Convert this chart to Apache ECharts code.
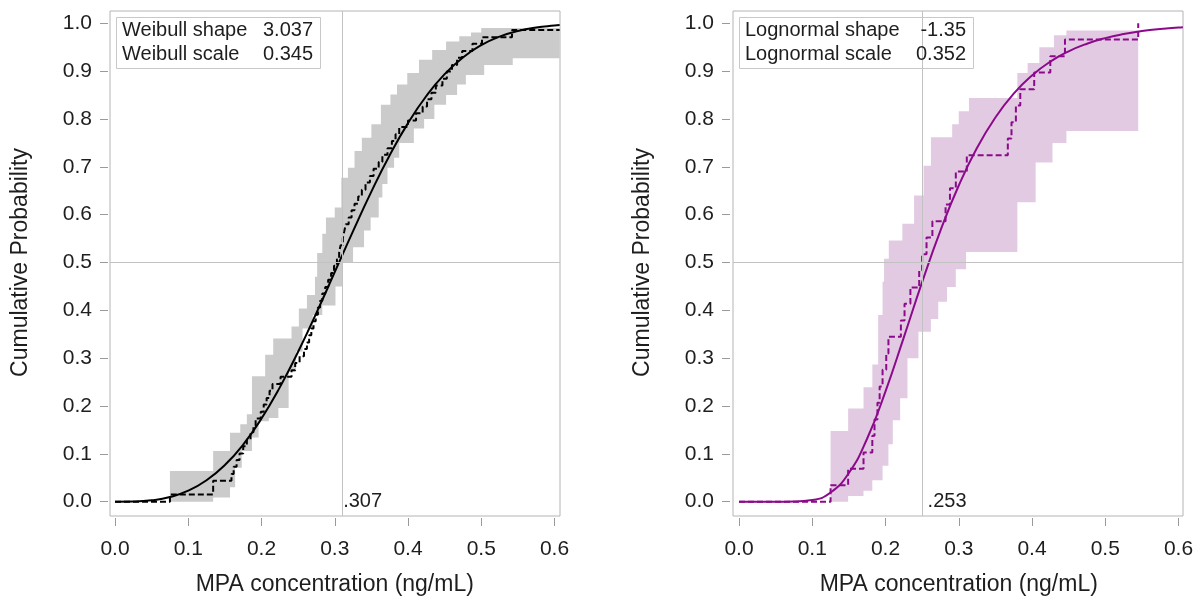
<!DOCTYPE html>
<html lang="en">
<head>
    <meta charset="utf-8"/>
    <title>MPA cumulative probability</title>
    <script src="https://cdn.jsdelivr.net/npm/echarts/dist/echarts.min.js"></script>
</head>
<style>
    html, body { margin: 0; padding: 0; background: #fff; }
    #chart { width: 1200px; height: 598px; }
</style>
<body>
<div id="chart"></div>
<script type="text/javascript">
    // tick labels
    var xTicks = [0, 0.1, 0.2, 0.3, 0.4, 0.5, 0.6];
    var yTicks = [0, 0.1, 0.2, 0.3, 0.4, 0.5, 0.6, 0.7, 0.8, 0.9, 1.0];

    // ---- left panel: Weibull ----
    var leftParams = [['Weibull shape', '3.037'], ['Weibull scale', '0.345']];
    var leftMedian = 0.307;
    var leftCurveX = [0, 0.025, 0.05, 0.075, 0.1, 0.125, 0.15, 0.175, 0.2, 0.225, 0.25, 0.275, 0.3,
        0.325, 0.35, 0.375, 0.4, 0.425, 0.45, 0.475, 0.5, 0.525, 0.55, 0.575, 0.6, 0.607];
    var leftCurveY = [0, 0.0003, 0.0028, 0.0097, 0.023, 0.0448, 0.0766, 0.1195, 0.1739, 0.239, 0.3134, 0.3948, 0.4801,
        0.5657, 0.6482, 0.7242, 0.7913, 0.848, 0.8937, 0.9287, 0.9543, 0.9721, 0.9838, 0.9911, 0.9953, 0.9962];
    var leftEcdfX = [0, 0.075, 0.134, 0.159, 0.162, 0.166, 0.170, 0.175, 0.180, 0.185, 0.189, 0.192, 0.199, 0.203,
        0.207, 0.211, 0.215, 0.226, 0.241, 0.246, 0.252, 0.258, 0.262, 0.265, 0.268, 0.271, 0.274, 0.277, 0.280,
        0.283, 0.287, 0.291, 0.295, 0.299, 0.303, 0.306, 0.308, 0.311, 0.313, 0.315, 0.319, 0.323, 0.327, 0.332,
        0.337, 0.342, 0.348, 0.353, 0.360, 0.365, 0.372, 0.378, 0.383, 0.388, 0.400, 0.411, 0.420, 0.426, 0.432,
        0.438, 0.447, 0.453, 0.460, 0.467, 0.474, 0.488, 0.501, 0.542, 0.607];
    var leftEcdfY = [0, 0.015, 0.044, 0.058, 0.073, 0.087, 0.101, 0.116, 0.130, 0.145, 0.159, 0.174, 0.188, 0.203,
        0.217, 0.232, 0.246, 0.261, 0.275, 0.290, 0.304, 0.319, 0.333, 0.348, 0.362, 0.377, 0.391, 0.406, 0.420,
        0.435, 0.449, 0.464, 0.478, 0.493, 0.507, 0.522, 0.536, 0.551, 0.565, 0.580, 0.594, 0.609, 0.623, 0.638,
        0.652, 0.667, 0.681, 0.696, 0.710, 0.725, 0.739, 0.754, 0.768, 0.783, 0.797, 0.812, 0.826, 0.841, 0.855,
        0.870, 0.884, 0.899, 0.913, 0.928, 0.942, 0.957, 0.971, 0.986, 0.986];
    // confidence band: upper and lower step edges
    var leftHiX = [0.075, 0.134, 0.157, 0.171, 0.180, 0.187, 0.205, 0.216, 0.241, 0.251, 0.262, 0.273, 0.276, 0.283,
        0.288, 0.300, 0.309, 0.318, 0.327, 0.337, 0.350, 0.363, 0.376, 0.385, 0.399, 0.415, 0.433, 0.452, 0.470,
        0.486, 0.500];
    var leftHiY = [0.064, 0.106, 0.144, 0.162, 0.183, 0.262, 0.307, 0.341, 0.366, 0.404, 0.432, 0.47, 0.52, 0.56,
        0.594, 0.615, 0.677, 0.698, 0.733, 0.761, 0.789, 0.83, 0.851, 0.872, 0.896, 0.924, 0.944, 0.962, 0.973,
        0.981, 0.99];
    var leftLoX = [0.075, 0.134, 0.157, 0.164, 0.173, 0.187, 0.196, 0.210, 0.223, 0.237, 0.247, 0.256, 0.270, 0.283,
        0.301, 0.310, 0.325, 0.340, 0.349, 0.360, 0.365, 0.372, 0.381, 0.388, 0.408, 0.422, 0.436, 0.452, 0.467,
        0.479, 0.504, 0.543];
    var leftLoY = [0, 0.009, 0.030, 0.071, 0.106, 0.134, 0.168, 0.175, 0.196, 0.272, 0.314, 0.362, 0.39, 0.41,
        0.45, 0.50, 0.532, 0.567, 0.594, 0.636, 0.664, 0.698, 0.719, 0.75, 0.78, 0.80, 0.83, 0.85, 0.872,
        0.892, 0.913, 0.927];
    var leftBandEnd = 0.607;

    // ---- right panel: Lognormal ----
    var rightParams = [['Lognormal shape', '-1.35'], ['Lognormal scale', '0.352']];
    var rightMedian = 0.253;
    var rightCurveX = [0, 0.05, 0.075, 0.1, 0.125, 0.15, 0.175, 0.2, 0.225, 0.25, 0.275, 0.3, 0.325, 0.35,
        0.375, 0.4, 0.425, 0.45, 0.475, 0.5, 0.525, 0.55, 0.575, 0.6, 0.606];
    var rightCurveY = [0, 0, 0.0002, 0.0034, 0.0191, 0.0601, 0.1321, 0.2306, 0.3436, 0.4589, 0.5666, 0.6609, 0.7397,
        0.8031, 0.8529, 0.891, 0.9199, 0.9414, 0.9573, 0.969, 0.9775, 0.9837, 0.9882, 0.9914, 0.992];
    var rightEcdfX = [0, 0.125, 0.149, 0.170, 0.182, 0.185, 0.189, 0.192, 0.196, 0.201, 0.204, 0.221, 0.226, 0.234,
        0.246, 0.250, 0.256, 0.264, 0.282, 0.288, 0.296, 0.311, 0.367, 0.372, 0.378, 0.384, 0.403, 0.425, 0.445, 0.545];
    var rightEcdfY = [0, 0.0345, 0.069, 0.103, 0.138, 0.172, 0.207, 0.241, 0.276, 0.310, 0.345, 0.379, 0.414, 0.448,
        0.483, 0.517, 0.552, 0.586, 0.621, 0.655, 0.690, 0.724, 0.759, 0.793, 0.828, 0.862, 0.897, 0.931, 0.966, 1.0];
    var rightHiX = [0.125, 0.149, 0.170, 0.182, 0.190, 0.196, 0.198, 0.2045, 0.223, 0.239, 0.252, 0.262, 0.291,
        0.300, 0.314, 0.380, 0.394, 0.410, 0.430, 0.447];
    var rightHiY = [0.148, 0.195, 0.239, 0.287, 0.39, 0.46, 0.508, 0.546, 0.581, 0.64, 0.702, 0.762, 0.789,
        0.816, 0.844, 0.896, 0.917, 0.95, 0.975, 0.985];
    var rightLoX = [0.125, 0.149, 0.170, 0.182, 0.196, 0.204, 0.210, 0.220, 0.230, 0.245, 0.262, 0.272, 0.284,
        0.296, 0.310, 0.380, 0.405, 0.428, 0.447];
    var rightLoY = [0, 0.012, 0.023, 0.045, 0.075, 0.12, 0.17, 0.216, 0.30, 0.355, 0.382, 0.418, 0.449,
        0.486, 0.522, 0.626, 0.709, 0.75, 0.775];
    var rightBandEnd = 0.545;

    var FONT = '"Liberation Sans", Arial, sans-serif';
    var TXT = '#1e1e1e';

    // pixel layout of the two panels: frame box, where 0..0.6 / 0..1 sit, and the tick lines
    var panels = [
        {frame: [110, 11, 450, 505], axis: [115, 23.3, 439.5, 478.4], xLine: 518, yLine: 108},
        {frame: [733, 11, 450, 505], axis: [739, 23.3, 439.5, 478.4], xLine: 518, yLine: 730}
    ];

    function pairs(xs, ys) {
        var out = [];
        for (var i = 0; i < xs.length; i++) out.push([xs[i], ys[i]]);
        return out;
    }

    function frameRange(p) {
        var f = p.frame, a = p.axis;
        var kx = 0.6 / a[2], ky = 1 / a[3];
        return {
            xmin: (f[0] - a[0]) * kx, xmax: (f[0] + f[2] - a[0]) * kx,
            ymin: -(f[1] + f[3] - (a[1] + a[3])) * ky, ymax: 1 + (a[1] - f[1]) * ky
        };
    }

    function bandRender(hiX, hiY, loX, loY, endX, color) {
        return function (params, api) {
            var pts = [], i, nx;
            for (i = 0; i < hiX.length; i++) {
                nx = i + 1 < hiX.length ? hiX[i + 1] : endX;
                pts.push(api.coord([hiX[i], hiY[i]]));
                pts.push(api.coord([nx, hiY[i]]));
            }
            for (i = loX.length - 1; i >= 0; i--) {
                nx = i + 1 < loX.length ? loX[i + 1] : endX;
                pts.push(api.coord([nx, loY[i]]));
                pts.push(api.coord([loX[i], loY[i]]));
            }
            return {type: 'polygon', shape: {points: pts}, style: {fill: color}};
        };
    }

    var grids = [], xAxes = [], yAxes = [], series = [], graphics = [];

    function tickLabel(margin) {
        return {margin: margin, fontSize: 21, color: TXT, fontFamily: FONT,
            formatter: function (v) { return v.toFixed(1); }};
    }

    function addGrid(o) {
        // keep grids exactly where they are put (no shrinking to fit labels)
        o.containLabel = false;
        o.outerBoundsMode = 'none';
        grids.push(o);
    }

    function addPanel(idx, d) {
        var p = panels[idx], r = frameRange(p);
        var g = grids.length;
        // frame grid (data)
        addGrid({left: p.frame[0], top: p.frame[1], width: p.frame[2], height: p.frame[3],
            show: true, borderColor: '#b4b4b4', borderWidth: 1});
        // x tick grid: bottom edge sits on the tick line below the frame
        addGrid({left: p.axis[0], top: p.frame[1], width: p.axis[2], height: p.xLine - p.frame[1]});
        // y tick grid: left edge sits on the tick line left of the frame
        addGrid({left: p.yLine, top: p.axis[1], width: 300, height: p.axis[3]});

        xAxes.push({gridIndex: g, type: 'value', min: r.xmin, max: r.xmax, show: false});
        yAxes.push({gridIndex: g, type: 'value', min: r.ymin, max: r.ymax, show: false});

        xAxes.push({
            gridIndex: g + 1, type: 'value', min: xTicks[0], max: xTicks[xTicks.length - 1], interval: 0.1,
            axisLine: {show: false, onZero: false}, splitLine: {show: false},
            axisTick: {length: 8, lineStyle: {color: '#9a9a9a'}},
            axisLabel: tickLabel(21),
            name: 'MPA concentration (ng/mL)', nameLocation: 'middle', nameGap: 55,
            nameTextStyle: {fontSize: 23, color: TXT, fontFamily: FONT}
        });
        yAxes.push({gridIndex: g + 1, type: 'value', min: 0, max: 1, show: false});

        xAxes.push({gridIndex: g + 2, type: 'value', min: 0, max: 1, show: false});
        yAxes.push({
            gridIndex: g + 2, type: 'value', min: yTicks[0], max: yTicks[yTicks.length - 1], interval: 0.1,
            axisLine: {show: false, onZero: false}, splitLine: {show: false},
            axisTick: {length: 8, lineStyle: {color: '#9a9a9a'}},
            axisLabel: tickLabel(16),
            name: 'Cumulative Probability', nameLocation: 'middle', nameGap: 76,
            nameTextStyle: {fontSize: 23, color: TXT, fontFamily: FONT}
        });

        series.push({
            type: 'custom', xAxisIndex: g, yAxisIndex: g, z: 1, silent: true,
            renderItem: bandRender(d.hiX, d.hiY, d.loX, d.loY, d.bandEnd, d.band),
            data: [[d.hiX[0], d.hiY[0]]]
        });
        series.push({
            type: 'line', xAxisIndex: g, yAxisIndex: g, z: 3, step: 'end', symbol: 'none', silent: true,
            lineStyle: {color: d.line, width: 2, type: [6, 3]},
            data: pairs(d.ecdfX, d.ecdfY)
        });
        series.push({
            type: 'line', xAxisIndex: g, yAxisIndex: g, z: 4, smooth: true, symbol: 'none', silent: true,
            lineStyle: {color: d.line, width: 2},
            data: pairs(d.curveX, d.curveY),
            markLine: {
                silent: true, symbol: 'none', label: {show: false},
                lineStyle: {color: '#c2c2c2', width: 1, type: 'solid'},
                data: [{xAxis: d.median}, {yAxis: 0.5}]
            },
            markPoint: {
                silent: true, symbolSize: 1, itemStyle: {color: 'rgba(0,0,0,0)'},
                label: {show: true, position: 'right', distance: 3, formatter: d.medianText,
                    fontSize: 20, color: TXT, fontFamily: FONT},
                data: [{coord: [d.median, 0]}]
            }
        });

        // parameter box
        var b = d.box;
        graphics.push({type: 'rect', left: b[0], top: b[1], shape: {width: b[2], height: b[3]},
            style: {fill: 'rgba(0,0,0,0)', stroke: '#c8c8c8', lineWidth: 1}, z: 10});
        for (var i = 0; i < d.params.length; i++) {
            var cy = b[1] + 13 + i * 24;
            graphics.push({type: 'text', x: b[0] + 6, y: cy, z: 11,
                style: {text: d.params[i][0], fill: TXT, font: '20px ' + FONT, verticalAlign: 'middle'}});
            graphics.push({type: 'text', x: b[0] + b[2] - 7, y: cy, z: 11,
                style: {text: d.params[i][1], fill: TXT, font: '20px ' + FONT, verticalAlign: 'middle', align: 'right'}});
        }
    }

    addPanel(0, {
        curveX: leftCurveX, curveY: leftCurveY, ecdfX: leftEcdfX, ecdfY: leftEcdfY,
        hiX: leftHiX, hiY: leftHiY, loX: leftLoX, loY: leftLoY, bandEnd: leftBandEnd,
        median: leftMedian, medianText: '.307', params: leftParams,
        line: '#000000', band: '#cbcbcb', box: [116, 17, 204, 51]
    });
    addPanel(1, {
        curveX: rightCurveX, curveY: rightCurveY, ecdfX: rightEcdfX, ecdfY: rightEcdfY,
        hiX: rightHiX, hiY: rightHiY, loX: rightLoX, loY: rightLoY, bandEnd: rightBandEnd,
        median: rightMedian, medianText: '.253', params: rightParams,
        line: '#8b0a8b', band: '#e2cbe2', box: [739, 17, 234, 51]
    });

    var myChart = echarts.init(document.getElementById('chart'));
    myChart.setOption({
        animation: false,
        backgroundColor: '#ffffff',
        grid: grids,
        xAxis: xAxes,
        yAxis: yAxes,
        series: series,
        graphic: graphics
    });
</script>
</body>
</html>
